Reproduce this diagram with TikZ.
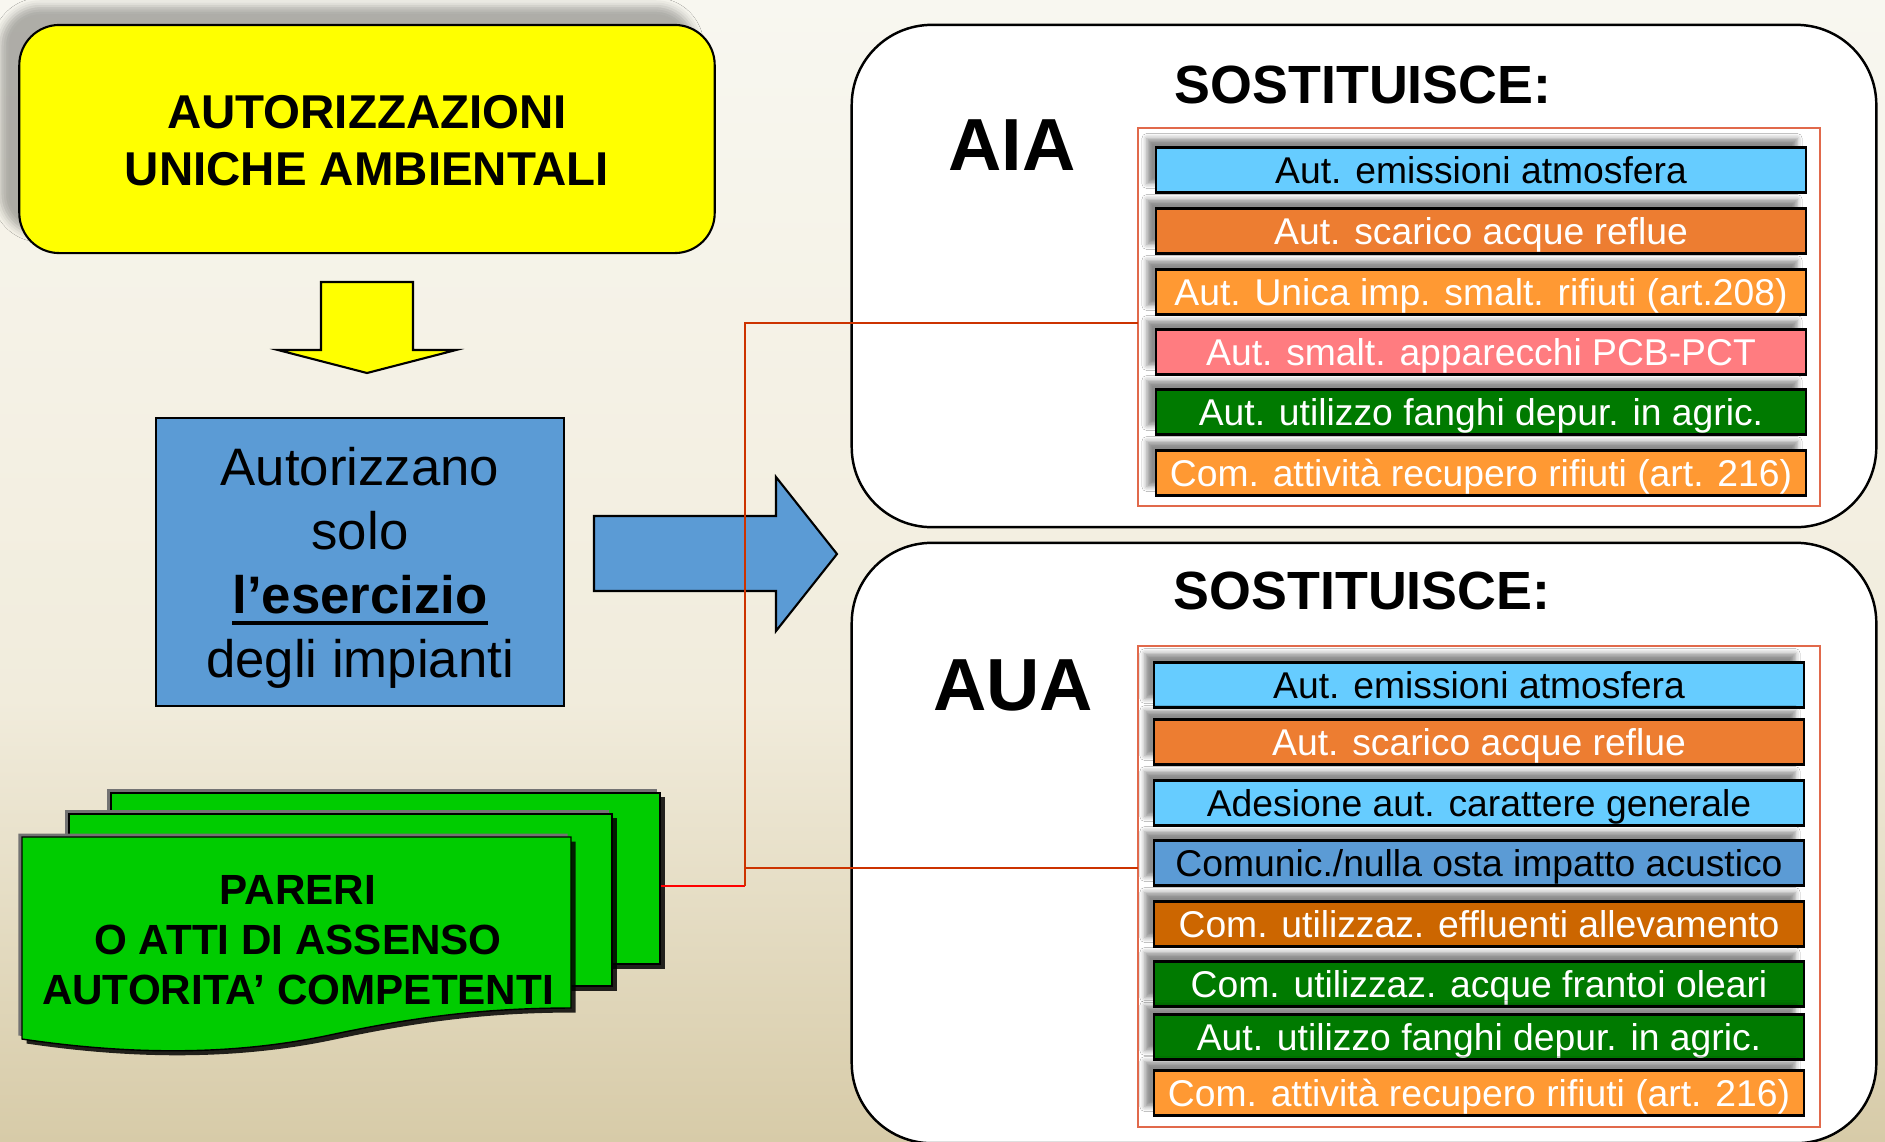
\documentclass[tikz,border=0pt]{standalone}
\usepackage{fontspec}
\setmainfont{Liberation Sans}
\usetikzlibrary{shadows,shadows.blur}

\definecolor{bgtop}{RGB}{248,247,240}
\definecolor{bgmid}{RGB}{241,236,220}
\definecolor{bgbot}{RGB}{215,203,168}
\definecolor{titleyellow}{RGB}{255,255,0}
\definecolor{boxblue}{RGB}{91,155,213}
\definecolor{docgreen}{RGB}{0,204,0}
\definecolor{skyblue}{RGB}{102,204,255}
\definecolor{rust}{RGB}{237,125,49}
\definecolor{amber}{RGB}{255,153,51}
\definecolor{salmon}{RGB}{255,124,128}
\definecolor{leaf}{RGB}{0,122,0}
\definecolor{ochre}{RGB}{204,102,0}
\definecolor{framered}{RGB}{225,105,75}
\definecolor{linkred}{RGB}{204,51,0}

% thick underline for the bold word
\newcommand{\thickunder}[1]{\setbox0\hbox{#1}\rlap{\vrule height -2.2pt depth 3.4pt width \wd0}\box0}

\tikzset{
  titlebox/.style={draw, line width=0.6pt, fill=titleyellow, rounded corners=0.4cm,
    minimum width=6.95cm, minimum height=2.28cm, align=center, text height=26.4pt,
    font=\fontsize{13.5}{16.2}\selectfont\bfseries,
    blur shadow={shadow xshift=-0.19cm, shadow yshift=0.19cm, shadow blur radius=0.08cm, shadow opacity=30}},
  usebox/.style={draw, line width=0.6pt, fill=boxblue, minimum width=4.08cm,
    minimum height=2.88cm, align=center, text depth=0pt, font=\fontsize{15}{18.2}\selectfont},
  docshadows/.style={
    general shadow={shadow xshift=-0.035cm, shadow yshift=0.035cm, fill=black!55},
    general shadow={shadow xshift=0.045cm, shadow yshift=-0.045cm, fill=black, opacity=0.85}},
  docsheet/.style={draw, line width=0.4pt, fill=docgreen, inner sep=0pt, docshadows},
  bigbox/.style={draw, line width=0.7pt, fill=white, rounded corners=0.8cm,
    minimum width=10.24cm},
  heading/.style={font=\fontsize{15.3}{18}\selectfont\bfseries},
  acronym/.style={font=\fontsize{21}{24}\selectfont\bfseries},
  listframe/.style={draw=framered, line width=0.5pt, fill=white, minimum width=6.82cm},
  item/.style={draw=black, line width=0.6pt, minimum width=6.5cm, minimum height=0.45cm,
    inner sep=0pt, text height=7.7pt, text depth=0pt, font=\fontsize{10.6}{12}\selectfont,
    blur shadow={shadow xshift=-0.09cm, shadow yshift=0.09cm, shadow blur radius=0.05cm, shadow opacity=45}},
  witem/.style={item, text=white},
  link/.style={draw=linkred, line width=0.45pt},
  feed/.style={draw=red, line width=0.8pt}
}

\begin{document}
\begin{tikzpicture}[x=0.01cm, y=-0.01cm]
  \useasboundingbox (0,0) rectangle (1885,1141);
  \shade[top color=bgtop, bottom color=bgmid] (0,0) rectangle (1885,700);
  \shade[top color=bgmid, bottom color=bgbot] (0,699) rectangle (1885,1141);

  % left column
  \node[titlebox] (uniche) at (367,139) {AUTORIZZAZIONI\\UNICHE AMBIENTALI};
  \filldraw[fill=titleyellow, line width=0.6pt]
    (321,282) -- (413,282) -- (413,350) -- (456,350) -- (367,373) -- (278,350) -- (321,350) -- cycle;
  \node[usebox] (esercizio) at (360,562)
    {Autorizzano\\solo\\\thickunder{\bfseries l’esercizio}\\degli impianti};
  \filldraw[fill=boxblue, line width=0.6pt]
    (594,516) -- (776,516) -- (776,477) -- (837,554) -- (776,631) -- (776,591) -- (594,591) -- cycle;

  % stacked documents
  \node[docsheet, minimum width=5.49cm, minimum height=1.71cm] (doc3) at (385.5,878.5) {};
  \node[docsheet, minimum width=5.43cm, minimum height=1.72cm] (doc2) at (340.5,900) {};
  \filldraw[fill=docgreen, line width=0.4pt, docshadows]
    (22,837) -- (571,837) -- (571,1008)
    .. controls (480,1008) and (410,1018) .. (330,1035)
    .. controls (250,1052) and (150,1058) .. (22,1039) -- cycle;
  \node[align=center, font=\fontsize{12}{14.2}\selectfont\bfseries] (pareri) at (298,940)
    {PARERI\\O ATTI DI ASSENSO\\AUTORITA’ COMPETENTI};

  % AIA
  \node[bigbox, minimum height=5.02cm] (aiabox) at (1364,276) {};
  \node[acronym] (aia) at (1012,145) {AIA};
  \node[heading] (aiatitle) at (1363,85) {SOSTITUISCE:};
  \node[listframe, minimum height=3.78cm] (aiaframe) at (1479,317) {};
  \node[item, fill=skyblue] (aia1) at (1481,170) {Aut. emissioni atmosfera};
  \node[witem, fill=rust] (aia2) at (1481,231) {Aut. scarico acque reflue};
  \node[witem, fill=amber] (aia3) at (1481,292) {Aut. Unica imp. smalt. rifiuti (art.208)};
  \node[witem, fill=salmon] (aia4) at (1481,352) {Aut. smalt. apparecchi PCB-PCT};
  \node[witem, fill=leaf] (aia5) at (1481,412) {Aut. utilizzo fanghi depur. in agric.};
  \node[witem, fill=amber] (aia6) at (1481,473) {Com. attività recupero rifiuti (art. 216)};

  % AUA
  \node[bigbox, minimum height=6.0cm] (auabox) at (1364,843) {};
  \node[acronym] (aua) at (1013,685) {AUA};
  \node[heading] (auatitle) at (1362,591) {SOSTITUISCE:};
  \node[listframe, minimum height=4.81cm] (auaframe) at (1479,886.5) {};
  \node[item, fill=skyblue] (aua1) at (1479,685) {Aut. emissioni atmosfera};
  \node[witem, fill=rust] (aua2) at (1479,742) {Aut. scarico acque reflue};
  \node[item, fill=skyblue] (aua3) at (1479,803) {Adesione aut. carattere generale};
  \node[item, fill=boxblue] (aua4) at (1479,863) {Comunic./nulla osta impatto acustico};
  \node[witem, fill=ochre] (aua5) at (1479,924) {Com. utilizzaz. effluenti allevamento};
  \node[witem, fill=leaf] (aua6) at (1479,984) {Com. utilizzaz. acque frantoi oleari};
  \node[witem, fill=leaf] (aua7) at (1479,1037) {Aut. utilizzo fanghi depur. in agric.};
  \node[witem, fill=amber] (aua8) at (1479,1093) {Com. attività recupero rifiuti (art. 216)};

  % connectors
  \coordinate (junc) at (745,886);
  \coordinate (aiain) at (1138,323);
  \coordinate (auain) at (1138,868);
  \draw[feed] (junc -| doc3.east) -- (junc);
  \draw[link] (junc) |- (aiain);
  \draw[link] (junc |- auain) -- (auain);
\end{tikzpicture}
\end{document}
